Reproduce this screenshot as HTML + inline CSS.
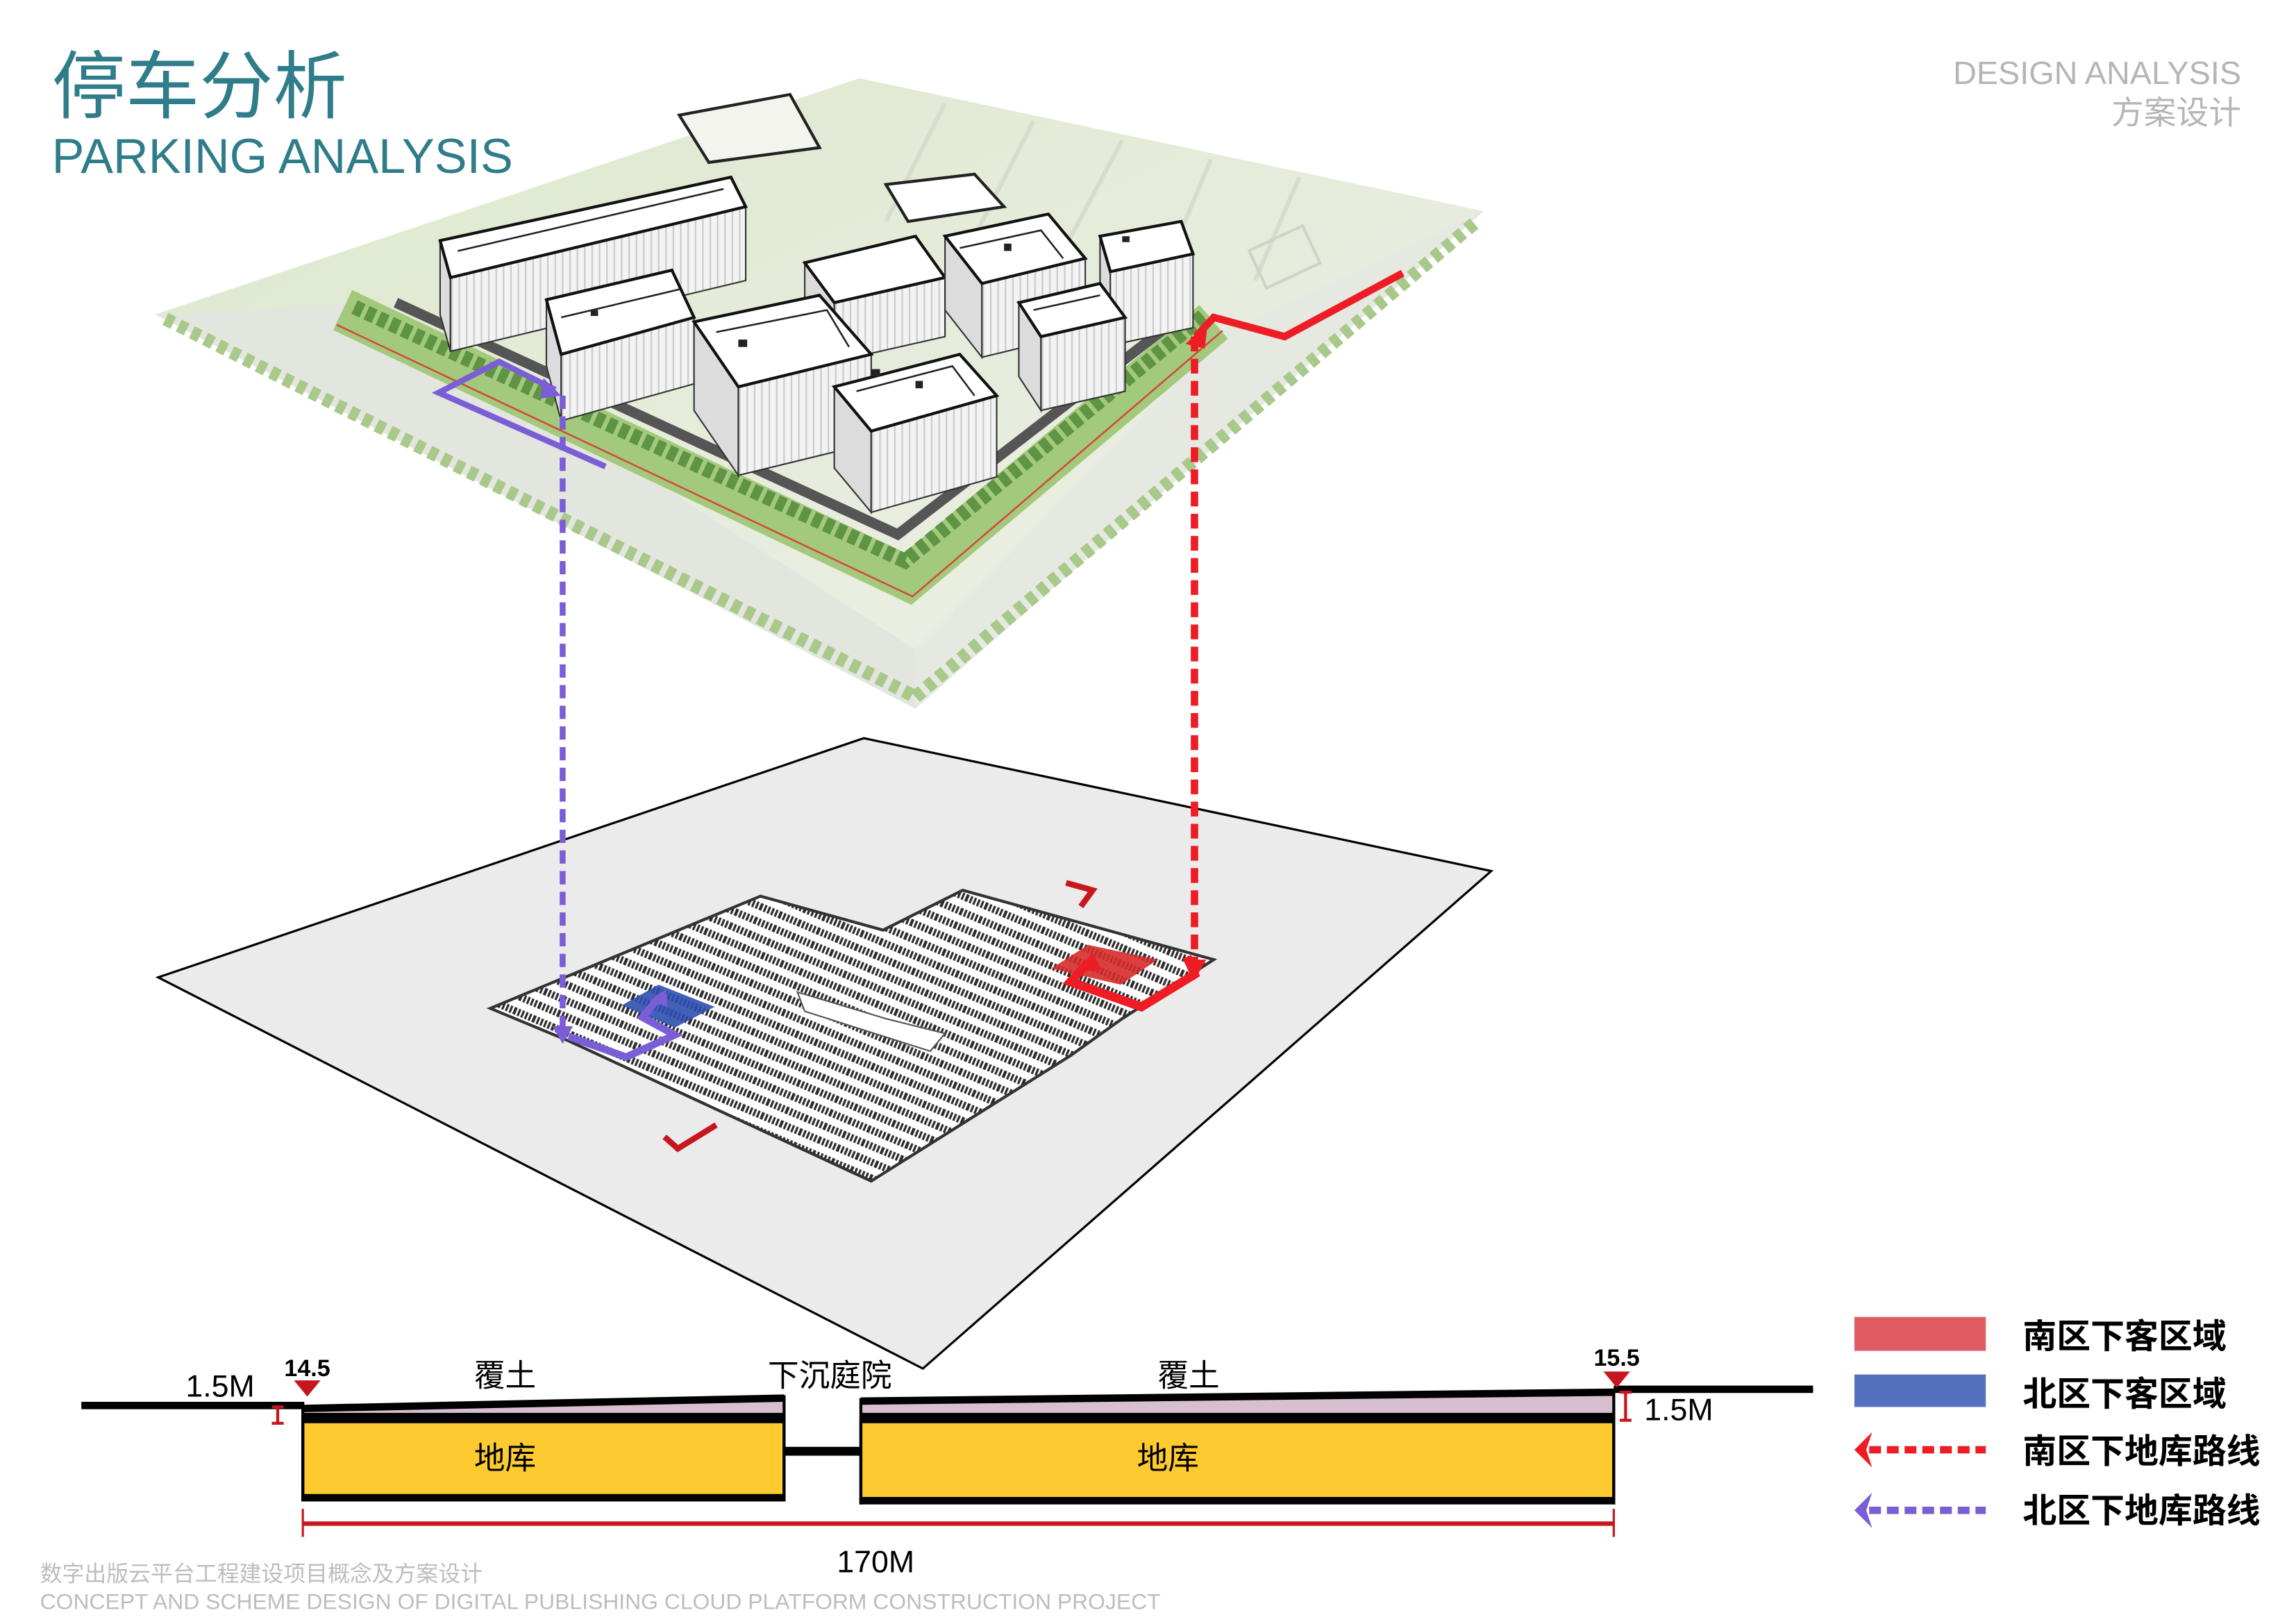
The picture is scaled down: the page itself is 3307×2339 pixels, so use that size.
<!DOCTYPE html>
<html><head><meta charset="utf-8"><style>
html,body{margin:0;padding:0;background:#fff}
svg{display:block}
text{font-family:"Liberation Sans","Noto Sans CJK SC",sans-serif}
</style></head><body>
<svg width="3307" height="2339" viewBox="0 0 1555 1100" xmlns="http://www.w3.org/2000/svg">
<defs>
<pattern id="rows" width="14" height="10" patternUnits="userSpaceOnUse" patternTransform="rotate(23)">
<rect width="14" height="10" fill="#fff"/>
<line x1="0" y1="4" x2="14" y2="4" stroke="#2a2a2a" stroke-width="5" stroke-dasharray="1.5 1.2"/>
</pattern>
<pattern id="fac" width="5" height="5" patternUnits="userSpaceOnUse">
<rect width="5" height="5" fill="#f3f3f3"/>
<line x1="1" y1="0" x2="1" y2="5" stroke="#c9c9c9" stroke-width="1"/>
</pattern>
<linearGradient id="site" x1="0" y1="0" x2="1" y2="1">
<stop offset="0" stop-color="#dde8cc"/><stop offset="1" stop-color="#eef0ea"/>
</linearGradient>
</defs>

<!-- Titles -->
<text x="35" y="76" font-size="50" fill="#2f7d8a">停车分析</text>
<text x="35" y="117" font-size="33" fill="#2f7d8a">PARKING ANALYSIS</text>
<text x="1518" y="57" font-size="22" fill="#b5b5b5" text-anchor="end">DESIGN ANALYSIS</text>
<text x="1518" y="84" font-size="22" fill="#b5b5b5" text-anchor="end">方案设计</text>

<!-- Top site plane -->
<polygon points="582,53 1005,143 620,480 105,213" fill="url(#site)"/>
<g stroke="#d8dccf" stroke-width="3">
<line x1="640" y1="70" x2="600" y2="150"/><line x1="700" y1="82" x2="660" y2="160"/>
<line x1="760" y1="95" x2="720" y2="170"/><line x1="820" y1="108" x2="790" y2="180"/>
<line x1="880" y1="120" x2="850" y2="190"/>
</g>
<rect x="850" y="160" width="40" height="28" fill="none" stroke="#d0d4c8" stroke-width="2" transform="rotate(-25 870 174)"/>
<polygon points="105,213 255,205 620,440 620,480" fill="#e3e5df"/>
<polygon points="620,440 830,225 1005,143 620,480" fill="#e6e8e2"/>
<polyline points="112,216 620,472" stroke="#a8c98a" stroke-width="9" fill="none" stroke-dasharray="6 4"/>
<polyline points="620,472 1000,150" stroke="#a8c98a" stroke-width="9" fill="none" stroke-dasharray="6 4"/>
<polyline points="232,210 615,392 822,218" stroke="#a3c97c" stroke-width="30" fill="none"/>
<polyline points="240,208 613,380 815,214" stroke="#5e9444" stroke-width="10" fill="none" stroke-dasharray="6 3"/>
<polyline points="228,220 618,404 828,224" stroke="#d24a3a" stroke-width="1.2" fill="none"/>
<polyline points="268,205 608,362 805,210" stroke="#555" stroke-width="7" fill="none"/>

<!-- buildings -->
<g stroke="#333" stroke-width="1">
<polygon points="460,78 535,64 555,100 480,110" fill="#f4f4ee" stroke="#222" stroke-width="2"/>
<polygon points="600,125 660,118 680,140 615,150" fill="#fff" stroke="#222" stroke-width="2"/>
<polygon points="298,163 305,188 305,238 298,213" fill="#dcdcdc"/>
<polygon points="305,188 505,140 505,190 305,238" fill="url(#fac)"/>
<polygon points="298,163 495,120 505,140 305,188" fill="#fff" stroke="#111" stroke-width="2"/>
<polygon points="545,178 565,205 565,245 545,218" fill="#dcdcdc"/>
<polygon points="565,205 640,188 640,228 565,245" fill="url(#fac)"/>
<polygon points="545,178 620,160 640,188 565,205" fill="#fff" stroke="#111" stroke-width="2"/>
<polygon points="640,160 665,192 665,242 640,210" fill="#dcdcdc"/>
<polygon points="665,192 735,175 735,225 665,242" fill="url(#fac)"/>
<polygon points="640,160 710,145 735,175 665,192" fill="#fff" stroke="#111" stroke-width="2"/>
<polygon points="745,160 752,184 752,234 745,210" fill="#dcdcdc"/>
<polygon points="752,184 808,172 808,222 752,234" fill="url(#fac)"/>
<polygon points="745,160 800,150 808,172 752,184" fill="#fff" stroke="#111" stroke-width="2"/>
<polygon points="370,203 380,240 380,285 370,248" fill="#dcdcdc"/>
<polygon points="380,240 470,215 470,260 380,285" fill="url(#fac)"/>
<polygon points="370,203 455,183 470,215 380,240" fill="#fff" stroke="#111" stroke-width="2"/>
<polygon points="690,205 705,228 705,278 690,255" fill="#dcdcdc"/>
<polygon points="705,228 762,215 762,265 705,278" fill="url(#fac)"/>
<polygon points="690,205 745,192 762,215 705,228" fill="#fff" stroke="#111" stroke-width="2"/>
<polygon points="470,218 500,262 500,322 470,278" fill="#dcdcdc"/>
<polygon points="500,262 590,240 590,300 500,322" fill="url(#fac)"/>
<polygon points="470,218 555,200 590,240 500,262" fill="#fff" stroke="#111" stroke-width="2"/>
<polygon points="565,262 590,292 590,347 565,317" fill="#dcdcdc"/>
<polygon points="590,292 675,268 675,323 590,347" fill="url(#fac)"/>
<polygon points="565,262 650,240 675,268 590,292" fill="#fff" stroke="#111" stroke-width="2"/>
</g>
<g fill="none" stroke="#222" stroke-width="1.2">
<polyline points="310,170 490,128"/><polyline points="380,215 460,196"/>
<polyline points="485,225 560,210 575,235"/><polyline points="580,265 645,248 660,268"/>
<polyline points="650,168 705,156 720,175"/><polyline points="700,210 745,200"/>
</g>
<g fill="#222">
<rect x="590" y="250" width="6" height="5"/><rect x="620" y="258" width="5" height="5"/>
<rect x="500" y="230" width="6" height="5"/><rect x="680" y="165" width="5" height="5"/>
<rect x="400" y="210" width="5" height="4"/><rect x="760" y="160" width="5" height="4"/>
</g>

<!-- Lower plane -->
<polygon points="585,500 1010,590 625,927 107,662" fill="#ebebeb" stroke="#000" stroke-width="1.5"/>
<polygon points="332,683 515,607 598,630 652,603 822,650 760,690 725,715 590,800 385,705" fill="url(#rows)" stroke="#333" stroke-width="2"/>
<polygon points="540,672 600,690 640,700 630,712 545,685" fill="#fff" stroke="#555" stroke-width="1"/>
<polygon points="421,681 446,667 484,682 457,696" fill="#2f4fb0" opacity="0.9"/>
<polygon points="712,656 737,640 784,650 759,667" fill="#d62b2b" opacity="0.9"/>
<polyline points="722,598 740,603 732,614" stroke="#c8161d" stroke-width="4" fill="none"/>
<polyline points="450,770 459,778 485,762" stroke="#c8161d" stroke-width="4" fill="none"/>

<!-- dashed connectors -->
<line x1="381" y1="268" x2="381" y2="700" stroke="#7b5ed6" stroke-width="4" stroke-dasharray="9 5"/>
<polygon points="374,695 388,695 381,707" fill="#7b5ed6"/>
<line x1="809" y1="228" x2="809" y2="655" stroke="#ee1c24" stroke-width="5" stroke-dasharray="10 5"/>
<polygon points="801,650 817,650 809,664" fill="#ee1c24"/>

<!-- routes -->
<polyline points="950,185 870,228 822,215 810,228" stroke="#ee1c24" stroke-width="5" fill="none"/>
<polygon points="803,233 818,218 816,236" fill="#ee1c24"/>
<polyline points="410,316 297,266 338,245 376,264" stroke="#7b5ed6" stroke-width="4" fill="none"/>
<polygon points="380,268 368,256 366,270" fill="#7b5ed6"/>
<polyline points="385,702 424,716 457,701 435,689 447,675" stroke="#7b5ed6" stroke-width="5" fill="none"/>
<polygon points="451,670 440,678 452,682" fill="#7b5ed6"/>
<polyline points="737,652 725,665 773,682 809,660 804,648" stroke="#ee1c24" stroke-width="6" fill="none"/>
<polygon points="740,645 730,658 746,657" fill="#ee1c24"/>

<!-- Section -->
<line x1="55" y1="952" x2="206" y2="952" stroke="#000" stroke-width="5"/>
<line x1="1093" y1="941" x2="1228" y2="941" stroke="#000" stroke-width="5"/>
<polygon points="205,952 531,945 531,963 205,963" fill="#d7bfd0"/>
<polygon points="583,947 1093,941 1093,963 583,963" fill="#d7bfd0"/>
<polyline points="205,954 531,947" stroke="#000" stroke-width="5"/>
<polyline points="583,949 1093,943" stroke="#000" stroke-width="5"/>
<rect x="205" y="957" width="326" height="6" fill="#000"/>
<rect x="583" y="957" width="510" height="6" fill="#000"/>
<rect x="205" y="963" width="326" height="50" fill="#fdca30" stroke="#000" stroke-width="2"/>
<rect x="583" y="963" width="510" height="52" fill="#fdca30" stroke="#000" stroke-width="2"/>
<rect x="204" y="1012" width="328" height="5" fill="#000"/>
<rect x="582" y="1014" width="512" height="5" fill="#000"/>
<line x1="205" y1="952" x2="205" y2="1017" stroke="#000" stroke-width="2"/>
<line x1="531" y1="945" x2="531" y2="1017" stroke="#000" stroke-width="2"/>
<line x1="583" y1="947" x2="583" y2="1019" stroke="#000" stroke-width="2"/>
<line x1="1093" y1="941" x2="1093" y2="1019" stroke="#000" stroke-width="2"/>
<rect x="531" y="980" width="52" height="6" fill="#000"/>
<line x1="188" y1="953" x2="188" y2="964" stroke="#c8161d" stroke-width="2"/>
<line x1="184" y1="953" x2="192" y2="953" stroke="#c8161d" stroke-width="2"/>
<line x1="184" y1="964" x2="192" y2="964" stroke="#c8161d" stroke-width="2"/>
<line x1="1101" y1="943" x2="1101" y2="962" stroke="#c8161d" stroke-width="2"/>
<line x1="1097" y1="943" x2="1105" y2="943" stroke="#c8161d" stroke-width="2"/>
<line x1="1097" y1="962" x2="1105" y2="962" stroke="#c8161d" stroke-width="2"/>
<polygon points="199,935 217,935 208,946" fill="#c8161d"/>
<polygon points="1086,929 1104,929 1095,940" fill="#c8161d"/>
<text x="208" y="932" font-size="16" font-weight="bold" text-anchor="middle">14.5</text>
<text x="1095" y="925" font-size="16" font-weight="bold" text-anchor="middle">15.5</text>
<text x="149" y="946" font-size="21" text-anchor="middle">1.5M</text>
<text x="1137" y="962" font-size="21" text-anchor="middle">1.5M</text>
<text x="342" y="939" font-size="21" text-anchor="middle">覆土</text>
<text x="562" y="939" font-size="21" text-anchor="middle">下沉庭院</text>
<text x="805" y="939" font-size="21" text-anchor="middle">覆土</text>
<text x="342" y="995" font-size="21" text-anchor="middle">地库</text>
<text x="791" y="995" font-size="21" text-anchor="middle">地库</text>
<line x1="205" y1="1032" x2="1093" y2="1032" stroke="#c8161d" stroke-width="3"/>
<line x1="205" y1="1022" x2="205" y2="1041" stroke="#c8161d" stroke-width="1.5"/>
<line x1="1093" y1="1022" x2="1093" y2="1041" stroke="#c8161d" stroke-width="1.5"/>
<text x="593" y="1065" font-size="21" text-anchor="middle">170M</text>

<!-- Legend -->
<rect x="1256" y="892" width="89" height="23" fill="#e05c62"/>
<rect x="1256" y="931" width="89" height="22" fill="#5470bf"/>
<line x1="1266" y1="982" x2="1345" y2="982" stroke="#ee1c24" stroke-width="5" stroke-dasharray="8 4"/>
<polygon points="1256,982 1268,970 1264,982 1268,994" fill="#ee1c24"/>
<line x1="1266" y1="1023" x2="1345" y2="1023" stroke="#7b5ed6" stroke-width="5" stroke-dasharray="8 4"/>
<polygon points="1256,1023 1268,1011 1264,1023 1268,1035" fill="#7b5ed6"/>
<text x="1370" y="913" font-size="23" font-weight="bold">南区下客区域</text>
<text x="1370" y="952" font-size="23" font-weight="bold">北区下客区域</text>
<text x="1370" y="991" font-size="23" font-weight="bold">南区下地库路线</text>
<text x="1370" y="1031" font-size="23" font-weight="bold">北区下地库路线</text>

<!-- Footer -->
<text x="27" y="1071" font-size="15" fill="#bdbdbd">数字出版云平台工程建设项目概念及方案设计</text>
<text x="27" y="1090" font-size="15" fill="#bdbdbd">CONCEPT AND SCHEME DESIGN OF DIGITAL PUBLISHING CLOUD PLATFORM CONSTRUCTION PROJECT</text>
</svg>
</body></html>
